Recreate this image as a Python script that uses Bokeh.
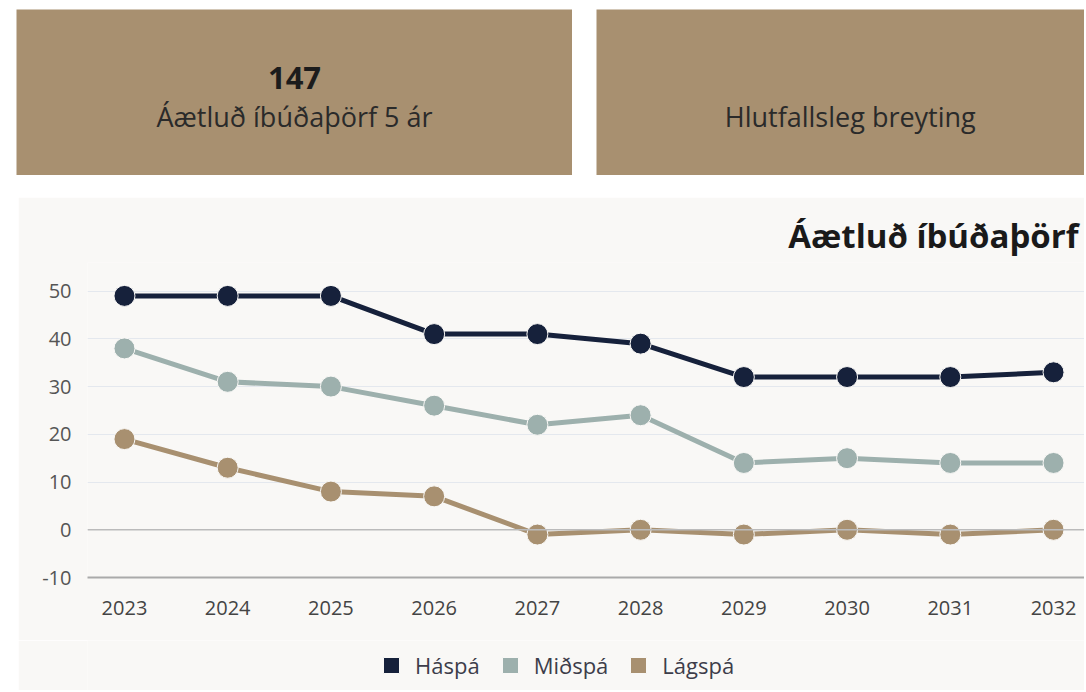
from bokeh.plotting import figure
from bokeh.models import (Range1d, FixedTicker, Span, Legend, LegendItem, ColumnDataSource,
                          Spacer, Title)
from bokeh.layouts import column, row
from bokeh.core.properties import value
from bokeh.embed import file_html
from bokeh.resources import INLINE

# ---------------- data ----------------
years = [2023, 2024, 2025, 2026, 2027, 2028, 2029, 2030, 2031, 2032]
haspa = [49, 49, 49, 41, 41, 39, 32, 32, 32, 33]
midspa = [38, 31, 30, 26, 22, 24, 14, 15, 14, 14]
lagspa = [19, 13, 8, 7, -1, 0, -1, 0, -1, 0]
series_names = ["Háspá", "Miðspá", "Lágspá"]
y_ticks = [-10, 0, 10, 20, 30, 40, 50]
kpi_value = "147"
kpi_label = "Áætluð íbúðaþörf 5 ár"
kpi2_label = "Hlutfallsleg breyting"
chart_title = "Áætluð íbúðaþörf"

# ---------------- style ----------------
BOX = "#A89070"
BG = "#F9F8F6"
COLORS = ["#16213B", "#9DB0AD", "#A89070"]
FONT = "Open Sans"


def make_box(w, h, big, small, cx):
    b = figure(width=w, height=h, x_range=Range1d(0, 1), y_range=Range1d(0, 1),
               toolbar_location=None, output_backend="svg", min_border=0)
    b.axis.visible = False
    b.grid.visible = False
    b.outline_line_color = None
    b.background_fill_color = BOX
    b.border_fill_color = BOX
    if big:
        b.text(x=[cx], y=[0.59], text=[big], text_align="center", text_baseline="middle",
               text_font=value(FONT), text_font_style="bold", text_font_size="31px",
               text_color="#1c1c1c")
    b.text(x=[cx], y=[0.355], text=[small], text_align="center", text_baseline="middle",
           text_font=value(FONT), text_font_size="27px", text_color="#2a2a2a")
    return b


box1 = make_box(556, 166, kpi_value, kpi_label, 0.5)
box2 = make_box(488, 166, None, kpi2_label, 0.52)

# ---------------- chart ----------------
p = figure(width=1066, height=443, toolbar_location=None, output_backend="svg",
           x_range=Range1d(2022.642, 2032.30), y_range=Range1d(-10, 56),
           min_border_left=69, min_border_right=0, min_border_top=65, min_border_bottom=63)
p.background_fill_color = BG
p.border_fill_color = BG
p.outline_line_color = None

p.title = Title(text=chart_title, align="right", text_font=FONT, text_font_style="bold",
                text_font_size="33px", text_color="#1a1a1a", standoff=10, offset=6)

p.xgrid.visible = False
p.ygrid.grid_line_color = "#E4E8EE"
p.ygrid.grid_line_width = 1
p.yaxis.ticker = FixedTicker(ticks=y_ticks)
p.yaxis.major_label_overrides = {t: str(t) for t in y_ticks}
p.xaxis.ticker = FixedTicker(ticks=years)
p.xaxis.major_label_overrides = {y: str(y) for y in years}

for ax in (p.xaxis, p.yaxis):
    ax.major_tick_line_color = None
    ax.minor_tick_line_color = None
    ax.major_label_text_font = FONT
p.yaxis.axis_line_color = None
p.yaxis.major_label_text_color = "#555555"
p.yaxis.major_label_text_font_size = "20px"
p.yaxis.major_label_standoff = 10
p.xaxis.axis_line_color = "#AAAAAA"
p.xaxis.axis_line_width = 2
p.xaxis.major_label_text_color = "#444444"
p.xaxis.major_label_text_font_size = "20px"
p.xaxis.major_label_standoff = 17

p.add_layout(Span(location=0, dimension="width", line_color="#BBBBBB", line_width=1.5))

for name, vals, col in zip(series_names, [haspa, midspa, lagspa], COLORS):
    src = ColumnDataSource(dict(x=years, y=vals))
    p.line("x", "y", source=src, line_color=col, line_width=5)
    p.scatter("x", "y", source=src, size=21, fill_color=col, line_color=BG, line_width=1)

# ---------------- legend strip ----------------
lg = figure(width=1066, height=50, toolbar_location=None, output_backend="svg",
            x_range=Range1d(0, 1), y_range=Range1d(0, 1), min_border=0)
lg.axis.visible = False
lg.grid.visible = False
lg.outline_line_color = None
lg.background_fill_color = BG
lg.border_fill_color = BG
items = []
for name, col in zip(series_names, COLORS):
    sq = lg.quad(left=[-5], right=[-4], bottom=[-5], top=[-4], fill_color=col,
                 line_color=BG, line_width=1)
    items.append(LegendItem(label=name, renderers=[sq]))
legend = Legend(items=items, orientation="horizontal", location=(294, 10),
                background_fill_alpha=0, border_line_color=None,
                label_text_font=FONT, label_text_font_size="22px", label_text_color="#3d3d4a",
                glyph_width=20, glyph_height=20, label_height=20, label_standoff=14,
                spacing=20, padding=0, margin=0)
lg.add_layout(legend, "center")

layout = column(
    Spacer(height=9),
    row(Spacer(width=16), box1, Spacer(width=24), box2),
    Spacer(height=22),
    row(Spacer(width=18), column(p, lg)),
)

open("out.html", "w").write(file_html(layout, INLINE))
